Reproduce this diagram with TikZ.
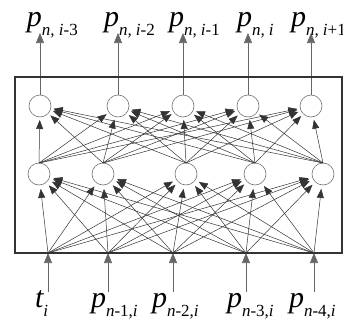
\documentclass[tikz,border=0pt]{standalone}
\usepackage{fontspec}
\setmainfont{Liberation Serif}
\usetikzlibrary{arrows.meta}

% symbol and lowered index used by every signal label
\newcommand\sigsym[1]{{\fontsize{30}{30}\selectfont\itshape #1}}
\newcommand\sigidx[1]{\raisebox{-9pt}{\fontsize{17}{17}\selectfont #1}}

\tikzset{
  neuron/.style={circle, draw=black!55, line width=0.6pt, minimum size=22pt,
                 inner sep=0pt, outer sep=0pt, fill=white},
  link/.style={draw=black!80, line width=0.5pt,
               -{Triangle[length=9pt,width=7pt]}},
  iolink/.style={draw=black!60, line width=0.6pt,
                 -{Triangle[length=10pt,width=8pt]}},
  frame/.style={draw=black!80, line width=2pt},
  lbl/.style={inner sep=0pt, outer sep=0pt, anchor=base west}
}

\begin{document}
\begin{tikzpicture}[x=1pt, y=-1pt]
  \useasboundingbox (0,0) rectangle (343,324);

  % hidden layer (upper) and input layer (lower)
  \foreach \i/\x in {1/40, 2/118, 3/183, 4/248, 5/311}
    \node[neuron] (top\i) at (\x,106) {};
  \foreach \i/\x in {1/39, 2/103, 3/186, 4/255, 5/323}
    \node[neuron] (bot\i) at (\x,174) {};

  % entry points on the lower edge of the frame, and arrow sources below it
  \foreach \i/\x in {1/48, 2/108, 3/173, 4/246, 5/314} {
    \coordinate (in\i) at (\x,253);
    \coordinate (src\i) at (\x,292);
  }
  % output arrow tips above the frame
  \foreach \i/\x in {1/40, 2/118, 3/183, 4/248, 5/311}
    \coordinate (out\i) at (\x,33);

  % full connections: inputs -> lower layer
  \foreach \a in {1,...,5}
    \foreach \b in {1,...,5}
      \draw[link, shorten >=4pt] (in\a) -- (bot\b);

  % full connections: lower layer -> upper layer
  \foreach \a in {1,...,5}
    \foreach \b in {1,...,5}
      \draw[link, shorten >=3pt] (bot\a.north) -- (top\b);

  % outputs
  \foreach \i in {1,...,5}
    \draw[iolink] (top\i.north) -- (out\i);

  % inputs
  \foreach \i in {1,...,5}
    \draw[iolink] (src\i) -- (in\i);

  % frame
  \draw[frame] (15,77) rectangle (342,253);

  % output labels
  \node[lbl] (o1) at (27,27)  {\sigsym{p}\sigidx{\itshape n, i\upshape -3}};
  \node[lbl] (o2) at (104,27) {\sigsym{p}\sigidx{\itshape n, i\upshape -2}};
  \node[lbl] (o3) at (169,27) {\sigsym{p}\sigidx{\itshape n, i\upshape -1}};
  \node[lbl] (o4) at (237,27) {\sigsym{p}\sigidx{\itshape n, i}};
  \node[lbl] (o5) at (291,27) {\sigsym{p}\sigidx{\itshape n, i\upshape +1}};

  % input labels
  \node[lbl] (l1) at (35,307)  {\sigsym{t}\sigidx{\itshape i}};
  \node[lbl] (l2) at (91,307)  {\sigsym{p}\sigidx{\itshape n\upshape -1,\itshape i}};
  \node[lbl] (l3) at (152,307) {\sigsym{p}\sigidx{\itshape n\upshape -2,\itshape i}};
  \node[lbl] (l4) at (227,307) {\sigsym{p}\sigidx{\itshape n\upshape -3,\itshape i}};
  \node[lbl] (l5) at (289,307) {\sigsym{p}\sigidx{\itshape n\upshape -4,\itshape i}};
\end{tikzpicture}
\end{document}
